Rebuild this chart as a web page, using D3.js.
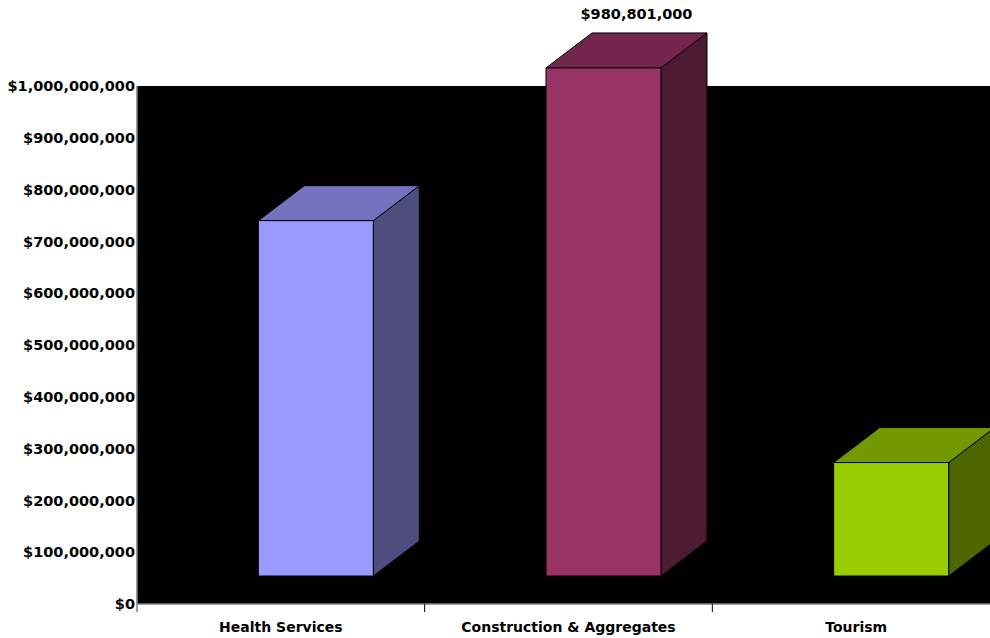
<!DOCTYPE html>
<html>
<head>
<meta charset="utf-8">
<script src="https://cdn.jsdelivr.net/npm/d3@7/dist/d3.min.js"></script>
<style>
  html, body { margin: 0; padding: 0; background: #fff; }
  svg { display: block; }
  text { font-family: "DejaVu Sans", Verdana, sans-serif; font-weight: bold; fill: #000; }
</style>
</head>
<body>
<svg id="chart" width="990" height="638"></svg>
<script>
// Industry revenue, in dollars
const categories = ["Health Services", "Construction & Aggregates", "Tourism"];
const values = [686000000, 980801000, 219000000];
const frontColors = ["#9999FF", "#993366", "#99CC00"];
const topColors   = ["#7373BF", "#73264D", "#739900"];
const sideColors  = ["#4D4D80", "#4D1A33", "#4D6600"];
const yTicks = [0, 100000000, 200000000, 300000000, 400000000, 500000000,
                600000000, 700000000, 800000000, 900000000, 1000000000];
const labelledIndex = 1; // only the tallest bar carries its value

const svg = d3.select("#chart");
const plotLeft = 137, plotBottom = 604, plotTop = 86, plotRight = 1000;

const x = d3.scaleBand().domain(categories).range([plotLeft, plotRight]).padding(0);
const y = d3.scaleLinear().domain([0, 1000000000]).range([plotBottom, plotTop]);

// 3D depth of the boxes
const dx = 46, dy = 35, floorLift = 28, barW = 115, barShift = 35;
const fmt = v => "$" + d3.format(",")(v);

// black back wall
svg.append("rect")
  .attr("x", plotLeft).attr("y", plotTop)
  .attr("width", plotRight - plotLeft).attr("height", plotBottom - plotTop)
  .attr("fill", "#000");

// y axis labels
svg.append("g").selectAll("text").data(yTicks).join("text")
  .attr("x", plotLeft - 2)
  .attr("y", d => y(d))
  .attr("dy", "0.36em")
  .attr("text-anchor", "end")
  .attr("font-size", 14.5)
  .text(fmt);

// bars
const bars = svg.append("g").selectAll("g").data(values).join("g");
bars.each(function(v, i) {
  const g = d3.select(this);
  const x0 = x(categories[i]) + x.bandwidth() / 2 + barShift - barW / 2;
  const x1 = x0 + barW;
  const yb = y(0) - floorLift;
  const yt = y(v) - floorLift;
  // side face
  g.append("path")
    .attr("d", `M${x1},${yt}L${x1 + dx},${yt - dy}L${x1 + dx},${yb - dy}L${x1},${yb}Z`)
    .attr("fill", sideColors[i]).attr("stroke", "#000").attr("stroke-width", 1);
  // top face
  g.append("path")
    .attr("d", `M${x0},${yt}L${x0 + dx},${yt - dy}L${x1 + dx},${yt - dy}L${x1},${yt}Z`)
    .attr("fill", topColors[i]).attr("stroke", "#000").attr("stroke-width", 1);
  // front face
  g.append("rect")
    .attr("x", x0).attr("y", yt).attr("width", barW).attr("height", yb - yt)
    .attr("fill", frontColors[i]).attr("stroke", "#000").attr("stroke-width", 1);
  if (i === labelledIndex) {
    g.append("text")
      .attr("x", (x0 + x1 + dx) / 2 + 10)
      .attr("y", yt - dy - 14)
      .attr("text-anchor", "middle")
      .attr("font-size", 14.5)
      .text(fmt(v));
  }
});

// axes lines
svg.append("line").attr("x1", plotLeft).attr("x2", plotRight).attr("y1", plotBottom).attr("y2", plotBottom)
  .attr("stroke", "#808080").attr("stroke-width", 1.5);
svg.append("line").attr("x1", plotLeft).attr("x2", plotLeft).attr("y1", plotTop).attr("y2", plotBottom + 8)
  .attr("stroke", "#808080").attr("stroke-width", 1.5);

// category tick marks between bands
const bounds = categories.map(c => x(c)).slice(1).concat([plotRight]);
svg.append("g").selectAll("line").data(bounds).join("line")
  .attr("x1", d => d).attr("x2", d => d)
  .attr("y1", plotBottom).attr("y2", plotBottom + 8)
  .attr("stroke", "#000").attr("stroke-width", 1);

// category labels
svg.append("g").selectAll("text").data(categories).join("text")
  .attr("x", d => x(d) + x.bandwidth() / 2)
  .attr("y", 632)
  .attr("text-anchor", "middle")
  .attr("font-size", 14)
  .text(d => d);
</script>
</body>
</html>
